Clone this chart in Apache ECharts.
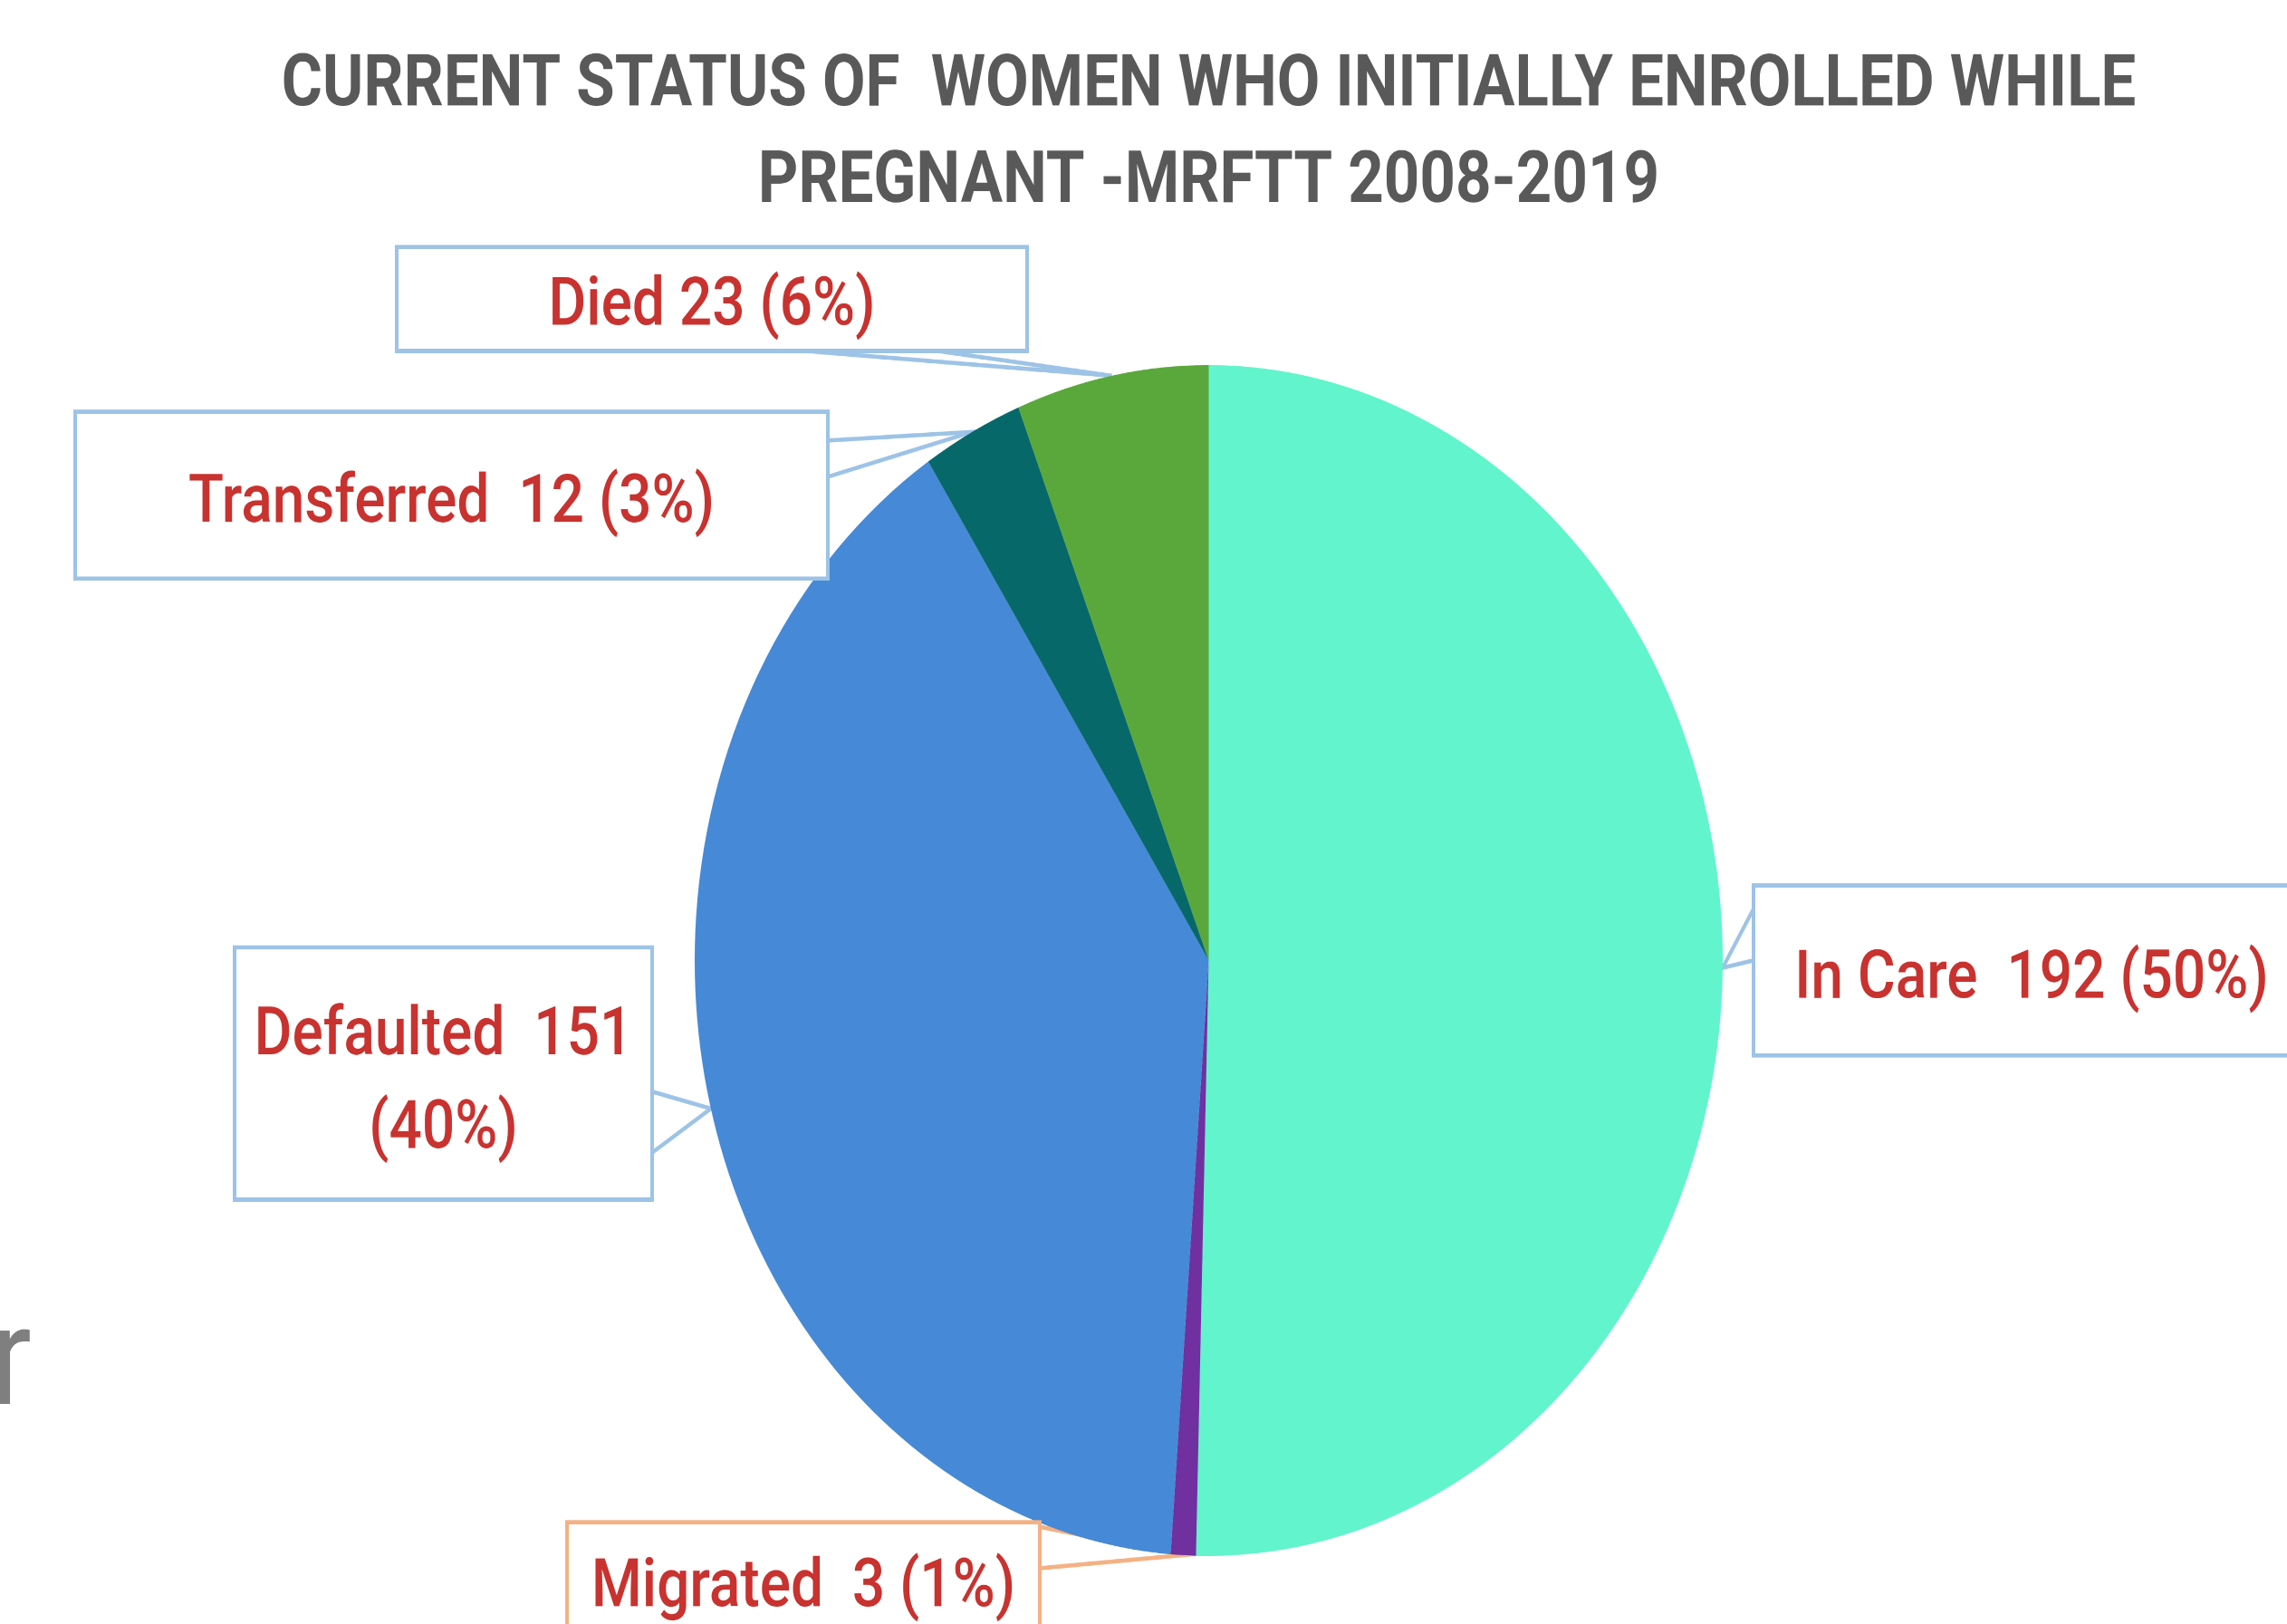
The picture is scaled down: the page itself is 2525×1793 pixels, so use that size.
<!DOCTYPE html>
<html>
<head>
<meta charset="utf-8">
<script src="https://cdn.jsdelivr.net/npm/echarts@6/dist/echarts.min.js"></script>
<style>
html, body { margin: 0; padding: 0; background: #ffffff; overflow: hidden; }
#stage { width: 2525px; height: 1793px; overflow: hidden; position: relative; }
#chart { width: 2525px; height: 1548px; transform: scaleY(1.1583); transform-origin: 0 0; }
</style>
</head>
<body>
<div id="stage"><div id="chart"></div></div>
<script>
// ---- data ----
const titleLines = ['CURRENT STATUS OF  WOMEN WHO INITIALLY ENROLLED WHILE', 'PREGNANT -MRFTT 2008-2019'];
const categories = ['In Care', 'Migrated', 'Defaulted', 'Transferred', 'Died'];
const counts = [192, 3, 151, 12, 23];
const labelFormats = ['{b}  {c} ({d}%)', '{b}  {c} ({d}%)', '{b}  {c}\n({d}%)', '{b}  {c} ({d}%)', '{b} {c} ({d}%)'];
const pageFragment = 'r';

// ---- styles / layout (unscaled coordinates; the page is stretched vertically) ----
// x: box centre, top: box top edge
const sliceColors = ['#62f4cc', '#7030a0', '#4689d7', '#07686a', '#5aa83b'];
const callouts = [
  { x: 2243,  top: 846,   w: 610, pad: [50, 0, 30, 0],   lh: 78, border: '#9dc3e6', a: [1938, 863], b: [1938, 915] },
  { x: 887,   top: 1453,  w: 518, pad: [23, 0, 15, 0],   lh: 78, border: '#f4b183', a: [1146, 1455], b: [1146, 1495] },
  { x: 489.5, top: 905,   w: 457, pad: [39.5, 0, 19, 0], lh: 89, border: '#9dc3e6', a: [718, 1040], b: [718, 1100] },
  { x: 498.5, top: 394.5, w: 827, pad: [48, 0, 29, 0],   lh: 78, border: '#9dc3e6', a: [912, 420], b: [912, 455] },
  { x: 786,   top: 237.5, w: 692, pad: [17, 0, 0, 0],    lh: 78, border: '#9dc3e6', a: [853, 332], b: [1015, 332] }
];

const chart = echarts.init(document.getElementById('chart'), null, { renderer: 'canvas', devicePixelRatio: 2 });

const seriesData = categories.map((name, i) => ({
  name: name,
  value: counts[i],
  itemStyle: { color: sliceColors[i] },
  label: {
    formatter: labelFormats[i],
    width: callouts[i].w,
    padding: callouts[i].pad,
    lineHeight: callouts[i].lh,
    borderColor: callouts[i].border
  },
  labelLine: { lineStyle: { color: callouts[i].border } }
}));

chart.setOption({
  backgroundColor: '#ffffff',
  animation: false,
  graphic: [
    {
      type: 'text',
      x: 1334.5,
      y: 37,
      style: {
        text: titleLines.join('\n'),
        fill: '#595959',
        fontFamily: 'Roboto',
        fontWeight: 'bold',
        fontSize: 69,
        lineHeight: 92,
        align: 'center',
        verticalAlign: 'top'
      }
    },
    {
      type: 'text',
      x: -10,
      y: 1305,
      style: {
        text: pageFragment,
        fill: '#7f7f7f',
        fontFamily: 'Roboto',
        fontSize: 132,
        align: 'left',
        verticalAlign: 'middle'
      }
    }
  ],
  series: [
    {
      type: 'pie',
      center: [1334.5, 915.5],
      radius: 567.5,
      startAngle: 90,
      clockwise: true,
      percentPrecision: 0,
      avoidLabelOverlap: false,
      data: seriesData,
      label: {
        show: true,
        position: 'outside',
        color: '#c8322f',
        fontFamily: 'Roboto',
        fontWeight: 500,
        fontSize: 64,
        backgroundColor: '#ffffff',
        borderWidth: 4,
        align: 'center'
      },
      labelLine: {
        show: true,
        smooth: false,
        lineStyle: { width: 4 }
      },
      labelLayout: function (params) {
        const c = callouts[params.dataIndex];
        const out = { x: c.x, y: c.top, align: 'center', verticalAlign: 'top' };
        if (params.labelLinePoints && params.labelLinePoints.length) {
          const tip = params.labelLinePoints[0];
          out.labelLinePoints = [c.a, [tip[0], tip[1]], c.b];
        }
        return out;
      },
      emphasis: { disabled: true }
    }
  ]
});
</script>
</body>
</html>
